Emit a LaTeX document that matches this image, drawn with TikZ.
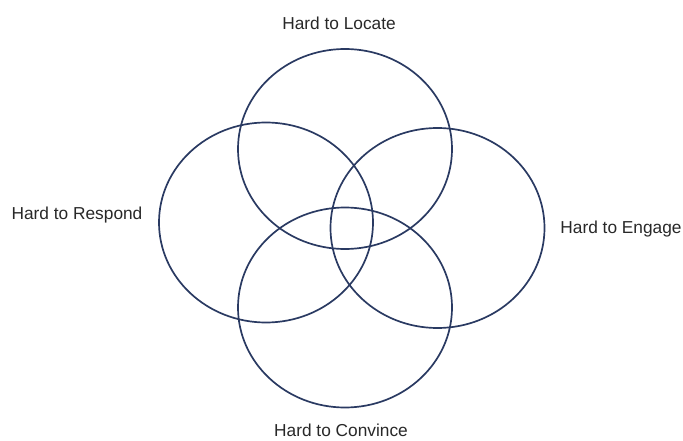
\documentclass[tikz,border=0pt]{standalone}
\usepackage{fontspec}
\setmainfont{Liberation Sans}
\usepackage{xcolor}
\usepackage{tikz}
\usetikzlibrary{shapes.geometric}

\definecolor{ringblue}{RGB}{42,58,98}
\definecolor{labelgray}{RGB}{40,40,40}

\tikzset{
  ring/.style={ellipse,draw=ringblue,line width=1.7pt,inner sep=0pt,
    minimum width=214pt,minimum height=200pt},
  lbl/.style={text=labelgray,inner sep=0pt,font=\fontsize{17.3}{20}\selectfont}
}

\begin{document}
\begin{tikzpicture}[x=1pt,y=-1pt]
  \useasboundingbox (0,0) rectangle (683,441);
  % the four rings
  \node[ring] (locate) at (345,149) {};
  \node[ring] (respond) at (266,222.5) {};
  \node[ring] (engage) at (437.5,228) {};
  \node[ring] (convince) at (345,307.5) {};
  % labels
  \node[lbl] (locatelbl) at (339,23) {Hard to Locate};
  \node[lbl] (respondlbl) at (77,215) {Hard to Respond};
  \node[lbl] (engagelbl) at (621,229) {Hard to Engage};
  \node[lbl] (convincelbl) at (341,430.5) {Hard to Convince};
\end{tikzpicture}
\end{document}
